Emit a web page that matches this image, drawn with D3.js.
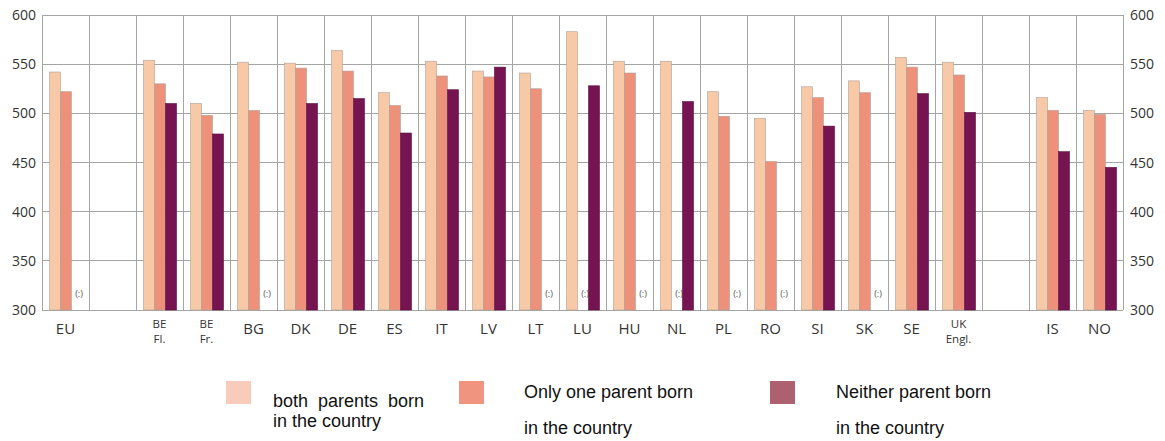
<!DOCTYPE html>
<html>
<head>
<meta charset="utf-8">
<script src="https://cdn.jsdelivr.net/npm/d3@7"></script>
<style>
  html, body { margin: 0; padding: 0; background: #fff; }
</style>
</head>
<body>
<script>
// slots along the axis; "gapA"/"gapB" are empty columns
const slots = ["EU", "gapA", "BE Fl.", "BE Fr.", "BG", "DK", "DE", "ES", "IT", "LV", "LT", "LU",
  "HU", "NL", "PL", "RO", "SI", "SK", "SE", "UK Engl.", "gapB", "IS", "NO"];
const slotLabels = [["EU"], [], ["BE", "Fl."], ["BE", "Fr."], ["BG"], ["DK"], ["DE"], ["ES"], ["IT"],
  ["LV"], ["LT"], ["LU"], ["HU"], ["NL"], ["PL"], ["RO"], ["SI"], ["SK"], ["SE"], ["UK", "Engl."], [], ["IS"], ["NO"]];

// null = not available "(:)" (or empty column)
const bothBorn    = [542, null, 554, 510, 552, 551, 564, 521, 553, 543, 541, 583, 553, 553, 522, 495, 527, 533, 557, 552, null, 516, 503];
const oneBorn     = [522, null, 530, 498, 503, 546, 543, 508, 538, 537, 525, null, 541, null, 497, 451, 516, 521, 547, 539, null, 503, 499];
const neitherBorn = [null, null, 510, 479, null, 510, 515, 480, 524, 547, null, 528, null, 512, null, null, 487, null, 520, 501, null, 461, 445];

const seriesKeys = ["both", "one", "neither"];
const seriesValues = [bothBorn, oneBorn, neitherBorn];
const barColors = ["#f7c9a6", "#ee917b", "#761351"];
const legendColors = ["#f8cbbb", "#f0937f", "#ac6070"];
const legendLines = [["both  parents  born", "in the country"], ["Only one parent born", "in the country"], ["Neither parent born", "in the country"]];

const yTicks = [300, 350, 400, 450, 500, 550, 600];

const width = 1165, height = 441;
const plotLeft = 42, plotRight = 1123, plotTop = 15, plotBottom = 310;

const svg = d3.select("body").append("svg")
  .attr("width", width)
  .attr("height", height)
  .style("font-family", "'Open Sans', sans-serif");

svg.append("rect").attr("width", width).attr("height", height).attr("fill", "#fff");

const x = d3.scaleBand().domain(slots).range([plotLeft, plotRight]).padding(0);
const xs = d3.scaleBand().domain(seriesKeys).range([7.5, 40.5]).padding(0);
const y = d3.scaleLinear().domain([300, 600]).range([plotBottom, plotTop]);

// grid
const grid = svg.append("g").attr("stroke", "#a5a5a5").attr("stroke-width", 1).attr("shape-rendering", "crispEdges");
grid.selectAll("line.h").data(yTicks).enter().append("line")
  .attr("x1", plotLeft).attr("x2", plotRight)
  .attr("y1", d => y(d)).attr("y2", d => y(d));
grid.selectAll("line.v").data(slots.concat(["__end"])).enter().append("line")
  .attr("x1", (d, i) => i < slots.length ? x(d) : plotRight)
  .attr("x2", (d, i) => i < slots.length ? x(d) : plotRight)
  .attr("y1", plotTop).attr("y2", plotBottom);

// bars
const groups = svg.append("g").selectAll("g")
  .data(slots).enter().append("g")
  .attr("transform", d => `translate(${x(d)},0)`);

seriesKeys.forEach((key, si) => {
  groups.each(function(slot, i) {
    const v = seriesValues[si][i];
    const g = d3.select(this);
    if (v != null) {
      g.append("rect")
        .attr("x", xs(key))
        .attr("y", y(v))
        .attr("width", xs.bandwidth())
        .attr("height", y(300) - y(v))
        .attr("fill", barColors[si])
        .attr("stroke", si === 2 ? "#5a1040" : "#b0a09a")
        .attr("stroke-width", 0.6);
    } else if (!slot.startsWith("gap")) {
      g.append("text")
        .attr("x", xs(key) + xs.bandwidth() / 2 + 2)
        .attr("y", y(300) - 13)
        .attr("text-anchor", "middle")
        .attr("font-size", 9)
        .attr("fill", "#555")
        .text("(:)");
    }
  });
});

// y axis labels both sides
const yl = svg.append("g").attr("font-size", 14).attr("fill", "#333");
yl.selectAll("text.l").data(yTicks).enter().append("text")
  .attr("x", 36).attr("y", d => y(d) + 5)
  .attr("text-anchor", "end").text(d => d);
yl.selectAll("text.r").data(yTicks).enter().append("text")
  .attr("x", 1130).attr("y", d => y(d) + 5)
  .attr("text-anchor", "start").text(d => d);

// category labels
const xl = svg.append("g").attr("fill", "#333");
slots.forEach((s, i) => {
  const lines = slotLabels[i];
  const cx = x(s) + x.bandwidth() / 2;
  if (lines.length === 1) {
    xl.append("text").attr("x", cx).attr("y", 334).attr("text-anchor", "middle")
      .attr("font-size", 15).text(lines[0]);
  } else if (lines.length === 2) {
    xl.append("text").attr("x", cx).attr("y", 328).attr("text-anchor", "middle")
      .attr("font-size", 11.5).text(lines[0]);
    xl.append("text").attr("x", cx).attr("y", 343).attr("text-anchor", "middle")
      .attr("font-size", 11.5).text(lines[1]);
  }
});

// legend
const legendX = [226, 459, 770];
const textX = [273, 524, 836];
const legend = svg.append("g").style("font-family", "'Liberation Sans', Arial, sans-serif");
seriesKeys.forEach((k, i) => {
  legend.append("rect")
    .attr("x", legendX[i]).attr("y", 381)
    .attr("width", 25).attr("height", 23)
    .attr("fill", legendColors[i]);
  const baselines = i === 0 ? [407, 427] : [398, 434];
  legendLines[i].forEach((t, j) => {
    legend.append("text")
      .attr("x", textX[i]).attr("y", baselines[j])
      .attr("font-size", 18).attr("fill", "#111")
      .style("white-space", "pre")
      .text(t);
  });
});
</script>
</body>
</html>
